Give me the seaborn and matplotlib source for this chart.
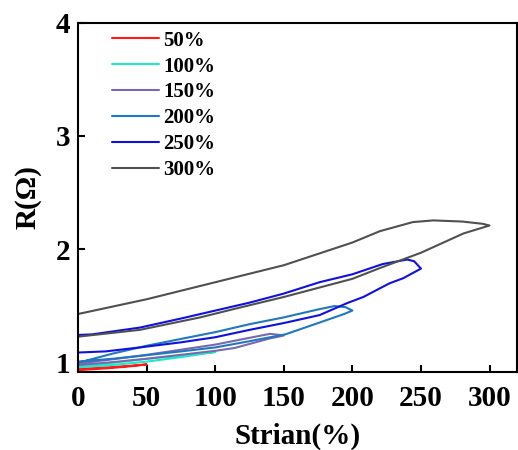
import pandas as pd
import matplotlib.pyplot as plt
import seaborn as sns

# loading (up) and unloading (down) branches for each strain
s50_up_x = [0, 10, 25, 40, 50]
s50_up_y = [0.945, 0.952, 0.962, 0.975, 0.985]
s50_dn_x = [50, 35, 20, 0]
s50_dn_y = [0.985, 0.965, 0.950, 0.935]

s100_up_x = [0, 25, 50, 75, 100]
s100_up_y = [0.97, 1.0, 1.035, 1.065, 1.095]
s100_dn_x = [100, 75, 50, 25, 0]
s100_dn_y = [1.095, 1.05, 1.01, 0.98, 0.96]

s150_up_x = [0, 25, 50, 75, 100, 125, 140, 150]
s150_up_y = [0.995, 1.03, 1.07, 1.115, 1.16, 1.22, 1.255, 1.24]
s150_dn_x = [150, 140, 114, 100, 75, 50, 25, 0]
s150_dn_y = [1.24, 1.215, 1.13, 1.105, 1.07, 1.035, 1.005, 0.98]

s200_up_x = [0, 25, 50, 75, 100, 125, 150, 175, 187, 195, 200]
s200_up_y = [1.0, 1.08, 1.15, 1.21, 1.27, 1.34, 1.40, 1.47, 1.50, 1.49, 1.46]
s200_dn_x = [200, 194, 175, 151, 125, 100, 75, 45, 25, 0]
s200_dn_y = [1.46, 1.43, 1.35, 1.25, 1.19, 1.135, 1.10, 1.06, 1.035, 1.01]

s250_up_x = [0, 10, 45, 75, 100, 125, 150, 176, 200, 222, 240, 245, 250]
s250_up_y = [1.245, 1.25, 1.31, 1.39, 1.46, 1.53, 1.61, 1.71, 1.78, 1.87, 1.91, 1.895, 1.83]
s250_dn_x = [250, 237, 227, 208, 196, 176, 150, 125, 100, 75, 45, 20, 0]
s250_dn_y = [1.83, 1.745, 1.70, 1.58, 1.525, 1.42, 1.35, 1.29, 1.225, 1.18, 1.135, 1.10, 1.09]

s300_up_x = [0, 50, 100, 150, 200, 220, 244, 259, 280, 295, 300]
s300_up_y = [1.43, 1.56, 1.71, 1.86, 2.06, 2.16, 2.24, 2.255, 2.245, 2.225, 2.21]
s300_dn_x = [300, 281, 250, 220, 200, 150, 114, 89, 45, 0]
s300_dn_y = [2.21, 2.14, 1.97, 1.835, 1.74, 1.58, 1.475, 1.40, 1.29, 1.23]

labels = ['50%', '100%', '150%', '200%', '250%', '300%']
colors = ['#ff1a1a', '#1ee8c8', '#7a68b0', '#1f78c0', '#1010e0', '#505050']

loops = [
    (s50_up_x + s50_dn_x, s50_up_y + s50_dn_y),
    (s100_up_x + s100_dn_x, s100_up_y + s100_dn_y),
    (s150_up_x + s150_dn_x, s150_up_y + s150_dn_y),
    (s200_up_x + s200_dn_x, s200_up_y + s200_dn_y),
    (s250_up_x + s250_dn_x, s250_up_y + s250_dn_y),
    (s300_up_x + s300_dn_x, s300_up_y + s300_dn_y),
]

frames = []
for lab, (xs, ys) in zip(labels, loops):
    frames.append(pd.DataFrame({'strain': xs, 'R': ys, 'set': lab}))
df = pd.concat(frames, ignore_index=True)

sns.set_style('ticks')
plt.rcParams['font.family'] = ['Liberation Serif', 'DejaVu Serif']
plt.rcParams['font.weight'] = 'bold'
plt.rcParams['text.color'] = 'black'
plt.rcParams['axes.labelcolor'] = 'black'
plt.rcParams['xtick.color'] = 'black'
plt.rcParams['ytick.color'] = 'black'
plt.rcParams['axes.edgecolor'] = 'black'

fig = plt.figure(figsize=(5.18, 4.5), dpi=100)
ax = fig.add_axes([0.151, 0.173, 0.847, 0.777])

sns.lineplot(data=df, x='strain', y='R', hue='set', hue_order=labels,
             palette=colors, sort=False, estimator=None, units='set',
             linewidth=1.5, ax=ax)

ax.set_xlim(0, 320)
ax.set_ylim(0.917, 4)
ax.set_xticks([0, 50, 100, 150, 200, 250, 300])
ax.set_yticks([1, 2, 3, 4])
ax.tick_params(direction='in', length=5, width=1.5, labelsize=21)
ax.tick_params(axis='x', pad=9)
ax.tick_params(axis='y', pad=6)
for lab in ax.get_xticklabels() + ax.get_yticklabels():
    lab.set_fontweight('bold')
for sp in ax.spines.values():
    sp.set_linewidth(1.5)
    sp.set_visible(True)

ax.set_xlabel('Strian(%)', fontsize=21, fontweight='bold', labelpad=8)
ax.set_ylabel('R(Ω)', fontsize=21, fontweight='bold', labelpad=10)

ax.legend(loc='upper left', bbox_to_anchor=(0.035, 1.03), frameon=False,
          handlelength=2.25, handletextpad=0.2, labelspacing=0.28,
          prop={'weight': 'bold', 'size': 15})

fig.savefig('out.png', dpi=100)
